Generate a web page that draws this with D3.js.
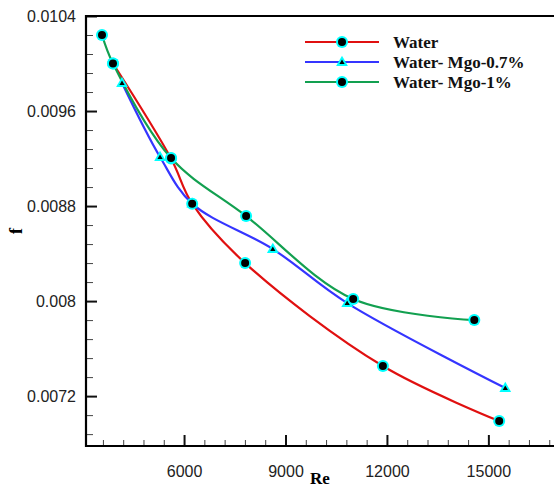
<!DOCTYPE html>
<html>
<head>
<meta charset="utf-8">
<script src="https://cdn.jsdelivr.net/npm/d3@7"></script>
<style>
  body { margin: 0; background: #fff; }
  svg { display: block; }
</style>
</head>
<body>
<div id="chart"></div>
<script>
// data
const seriesNames = ["Water", "Water- Mgo-0.7%", "Water- Mgo-1%"];
const waterRe = [3900, 5615, 6240, 7806, 11880, 15320];
const waterF = [0.01000, 0.00920, 0.00882, 0.00832, 0.007453, 0.00699];
const mgo07Re = [4165, 5290, 6240, 8625, 10825, 15500];
const mgo07F = [0.009836, 0.009213, 0.00882, 0.008438, 0.007983, 0.007268];
const mgo1Re = [3573, 3898, 5615, 7835, 11002, 14584];
const mgo1F = [0.01024, 0.01000, 0.009204, 0.008716, 0.008017, 0.00784];

const xMajorTicks = [6000, 9000, 12000, 15000];
const xTickLabels = ["6000", "9000", "12000", "15000"];
const yMajorTicks = [0.0072, 0.008, 0.0088, 0.0096, 0.0104];
const yTickLabels = ["0.0072", "0.008", "0.0088", "0.0096", "0.0104"];

const width = 554, height = 489;
const margin = { top: 16, right: -2, bottom: 43, left: 86 };

const svg = d3.select("#chart").append("svg")
    .attr("width", width)
    .attr("height", height);

const x = d3.scaleLinear().domain([3100, 17000]).range([margin.left, width - margin.right]);
const y = d3.scaleLinear().domain([0.00678, 0.0104]).range([height - margin.bottom, margin.top]);

// minor ticks
const xMinor = d3.range(3600, 17000, 600).filter(v => !xMajorTicks.includes(v));
const yMinor = d3.range(0, 30).map(i => +(0.0104 - i * 0.00016).toFixed(5))
    .filter(v => v >= 0.00678 && !yMajorTicks.some(m => Math.abs(m - v) < 1e-7));

const tickColor = "#111";

// x axis (bottom)
const xAxisMinor = svg.append("g")
    .attr("transform", `translate(0,${y.range()[0]})`)
    .call(d3.axisBottom(x).tickValues(xMinor).tickSize(-6).tickFormat(""));
const xAxisG = svg.append("g")
    .attr("transform", `translate(0,${y.range()[0]})`)
    .call(d3.axisBottom(x).tickValues(xMajorTicks).tickSize(-11)
        .tickFormat((d, i) => xTickLabels[i]).tickPadding(20));

// y axis (left)
const yAxisMinor = svg.append("g")
    .attr("transform", `translate(${margin.left},0)`)
    .call(d3.axisLeft(y).tickValues(yMinor).tickSize(-7).tickFormat(""));
const yAxisG = svg.append("g")
    .attr("transform", `translate(${margin.left},0)`)
    .call(d3.axisLeft(y).tickValues(yMajorTicks).tickSize(-11)
        .tickFormat((d, i) => yTickLabels[i]).tickPadding(10));

[xAxisMinor, xAxisG, yAxisMinor, yAxisG].forEach(a => {
    a.select(".domain").remove();
    a.selectAll("line").attr("stroke", tickColor);
});
xAxisMinor.selectAll("line").attr("stroke-width", 1).attr("stroke", "#444");
yAxisMinor.selectAll("line").attr("stroke-width", 1).attr("stroke", "#444");
xAxisG.selectAll("line").attr("stroke-width", 2);
yAxisG.selectAll("line").attr("stroke-width", 2);

svg.selectAll(".tick text")
    .attr("font-family", "'Liberation Sans', Arial, sans-serif")
    .attr("font-size", 16)
    .attr("fill", "#222");

// frame
svg.append("path")
    .attr("d", `M${x.range()[1]},${y.range()[1]} H${margin.left} V${y.range()[0]} H${x.range()[1]}`)
    .attr("fill", "none")
    .attr("stroke", "#000")
    .attr("stroke-width", 2.2);

// axis titles
svg.append("text")
    .attr("x", (margin.left + width) / 2)
    .attr("y", 484)
    .attr("text-anchor", "middle")
    .attr("font-family", "'Liberation Serif', 'Times New Roman', serif")
    .attr("font-weight", "bold")
    .attr("font-size", 17)
    .text("Re");

svg.append("text")
    .attr("transform", `translate(22,${(margin.top + height - margin.bottom) / 2}) rotate(-90)`)
    .attr("text-anchor", "middle")
    .attr("font-family", "'Liberation Serif', 'Times New Roman', serif")
    .attr("font-weight", "bold")
    .attr("font-size", 18)
    .text("f");

// series
const colors = ["#e01010", "#3535ff", "#12a050"];
const markers = ["circle", "triangle", "circle"];
const series = [
    { name: seriesNames[0], re: waterRe, f: waterF },
    { name: seriesNames[1], re: mgo07Re, f: mgo07F },
    { name: seriesNames[2], re: mgo1Re, f: mgo1F }
].map((s, i) => ({
    name: s.name,
    color: colors[i],
    marker: markers[i],
    values: s.re.map((r, j) => ({ re: r, f: s.f[j] }))
}));

const line = d3.line()
    .x(d => x(d.re))
    .y(d => y(d.f))
    .curve(d3.curveCatmullRom.alpha(0.5));

const lineG = svg.append("g");
series.forEach(s => {
    lineG.append("path")
        .datum(s.values)
        .attr("fill", "none")
        .attr("stroke", s.color)
        .attr("stroke-width", 2.2)
        .attr("d", line);
});

function drawMarker(g, type, cx, cy) {
    if (type === "circle") {
        g.append("circle").attr("cx", cx).attr("cy", cy).attr("r", 6).attr("fill", "#00ffff");
        g.append("circle").attr("cx", cx).attr("cy", cy).attr("r", 4).attr("fill", "#000");
    } else {
        g.append("path")
            .attr("transform", `translate(${cx},${cy + 0.5})`)
            .attr("d", d3.symbol(d3.symbolTriangle, 60)())
            .attr("fill", "#00ffff");
        g.append("path")
            .attr("transform", `translate(${cx},${cy + 0.5})`)
            .attr("d", d3.symbol(d3.symbolTriangle, 12)())
            .attr("fill", "#000");
    }
}

// draw triangles first so circles sit on top of them
const markG = svg.append("g");
[1, 0, 2].forEach(k => {
    const s = series[k];
    s.values.forEach(d => drawMarker(markG, s.marker, x(d.re), y(d.f)));
});

// legend
const legend = svg.append("g");
series.forEach((s, i) => {
    const ly = 42 + i * 20;
    legend.append("line")
        .attr("x1", 305).attr("x2", 379)
        .attr("y1", ly).attr("y2", ly)
        .attr("stroke", s.color)
        .attr("stroke-width", 2.2);
    drawMarker(legend, s.marker, 342, ly);
    legend.append("text")
        .attr("x", 393)
        .attr("y", ly + 5.5)
        .attr("font-family", "'Liberation Serif', 'Times New Roman', serif")
        .attr("font-weight", "bold")
        .attr("font-size", 17)
        .attr("fill", "#111")
        .text(s.name);
});
</script>
</body>
</html>
